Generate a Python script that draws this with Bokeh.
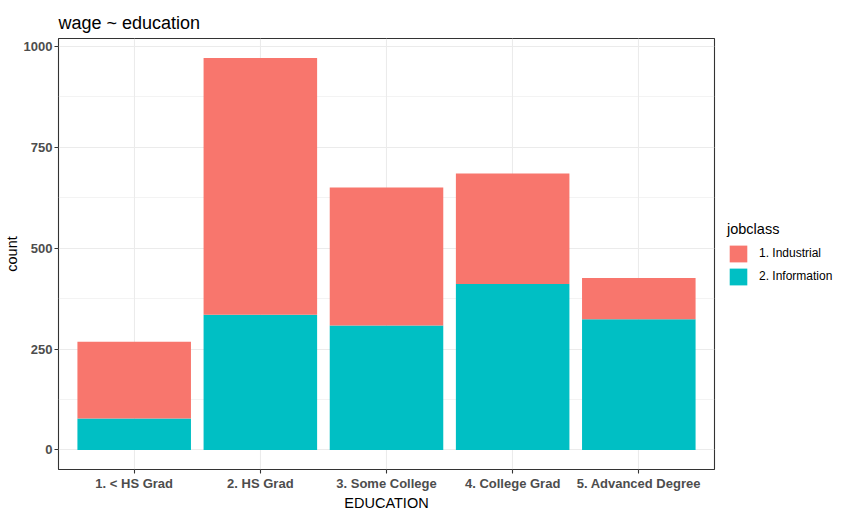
from bokeh.plotting import figure
from bokeh.models import ColumnDataSource, FixedTicker, Range1d, Legend, LegendItem
from bokeh.embed import file_html
from bokeh.resources import INLINE

categories = ["1. < HS Grad", "2. HS Grad", "3. Some College", "4. College Grad", "5. Advanced Degree"]
industrial = [190, 636, 342, 274, 102]
information = [78, 335, 308, 411, 324]
y_ticks = [0, 250, 500, 750, 1000]
y_minor = [125, 375, 625, 875]

xs = list(range(1, len(categories) + 1))
src = ColumnDataSource(dict(x=xs, info=information, ind=industrial))

ymax = max(a + b for a, b in zip(industrial, information))
pad = 0.05 * ymax

p = figure(frame_width=656, frame_height=431, output_backend="svg", toolbar_location=None,
           x_range=Range1d(0.4, len(categories) + 0.6), y_range=Range1d(-pad, ymax + pad),
           min_border_left=49, min_border_right=10, min_border_top=30, min_border_bottom=37)
p.margin = (4, 0, 0, 0)
p.background_fill_color = "white"
p.border_fill_color = "white"
p.outline_line_color = "#333333"
p.outline_line_width = 1.1

rs = p.vbar_stack(["info", "ind"], x="x", width=0.9, source=src,
                  color=["#00BFC4", "#F8766D"], line_color=None)

p.title.text = "wage ~ education"
p.title.text_font = "Liberation Sans"
p.title.text_font_size = "18px"
p.title.text_font_style = "normal"
p.title.text_color = "black"
p.title.offset = 0
p.title.standoff = 12

# grids
p.xgrid.ticker = FixedTicker(ticks=xs)
p.xgrid.grid_line_color = "#EBEBEB"
p.xgrid.grid_line_width = 1.1
p.ygrid.ticker = FixedTicker(ticks=y_ticks, minor_ticks=y_minor)
p.ygrid.grid_line_color = "#EBEBEB"
p.ygrid.grid_line_width = 1.1
p.ygrid.minor_grid_line_color = "#EBEBEB"
p.ygrid.minor_grid_line_width = 0.6

for ax in (p.xaxis[0], p.yaxis[0]):
    ax.axis_line_color = None
    ax.major_tick_line_color = "#333333"
    ax.major_tick_line_width = 1.1
    ax.major_tick_in = 0
    ax.major_tick_out = 4
    ax.minor_tick_line_color = None
    ax.major_label_text_font = "Liberation Sans"
    ax.major_label_text_font_size = "13px"
    ax.major_label_text_font_style = "bold"
    ax.major_label_text_color = "#4D4D4D"
    ax.major_label_standoff = 2
    ax.axis_label_text_font = "Liberation Sans"
    ax.axis_label_text_font_size = "14.5px"
    ax.axis_label_text_font_style = "normal"
    ax.axis_label_text_color = "black"
    ax.axis_label_standoff = 1

p.xaxis.ticker = FixedTicker(ticks=xs)
p.xaxis.major_label_overrides = {x: c for x, c in zip(xs, categories)}
p.xaxis.axis_label = "EDUCATION"
p.yaxis.ticker = FixedTicker(ticks=y_ticks)
p.yaxis.axis_label = "count"

legend = Legend(items=[LegendItem(label="1. Industrial", renderers=[rs[1]]),
                       LegendItem(label="2. Information", renderers=[rs[0]])],
                location="center_left", title="jobclass")
legend.title_text_font = "Liberation Sans"
legend.title_text_font_size = "14.5px"
legend.title_text_font_style = "normal"
legend.title_text_color = "black"
legend.title_standoff = 6
legend.label_text_font = "Liberation Sans"
legend.label_text_font_size = "12px"
legend.label_text_color = "black"
legend.glyph_width = 22
legend.glyph_height = 21
legend.label_height = 21
legend.label_standoff = 10
legend.spacing = 2
legend.margin = 13
legend.padding = 10
legend.border_line_color = None
legend.background_fill_alpha = 0
p.add_layout(legend, "right")

open("out.html", "w").write(file_html(p, INLINE))
